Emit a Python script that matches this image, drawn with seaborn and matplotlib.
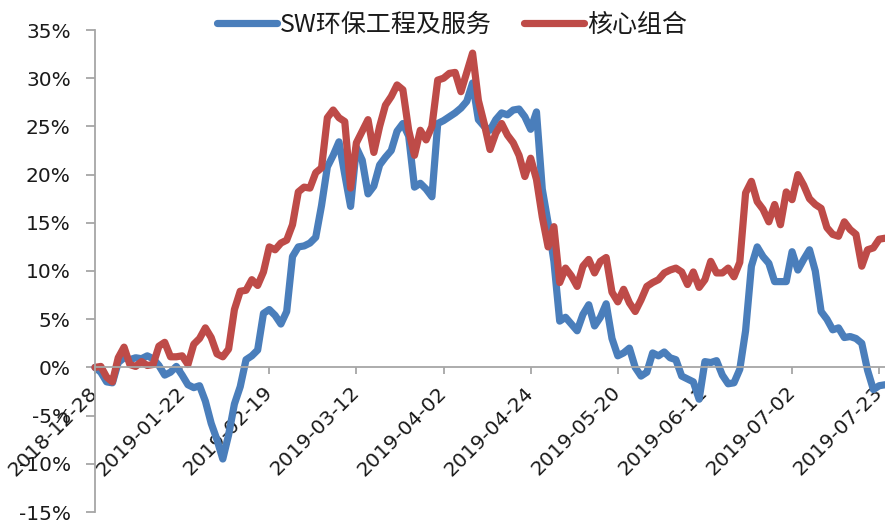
import numpy as np
import pandas as pd
import seaborn as sns
import matplotlib
matplotlib.use("Agg")
import matplotlib.pyplot as plt

# ---------------- data ----------------
series_names = ["SW环保工程及服务", "核心组合"]

sw_env = [
    0.0, -0.5, -1.5, -1.6, 0.5, 1.0, 0.8, 1.0, 0.9, 1.2,
    0.9, 0.2, -0.8, -0.5, 0.1, -0.8, -1.8, -2.1, -1.9, -3.5,
    -5.8, -7.5, -9.5, -7.0, -3.8, -2.0, 0.8, 1.2, 1.8, 5.6,
    6.0, 5.4, 4.5, 5.8, 11.5, 12.5, 12.6, 12.9, 13.5, 16.8,
    20.8, 22.0, 23.4, 20.0, 16.7, 22.8, 21.5, 18.0, 18.8, 21.0,
    21.8, 22.5, 24.5, 25.3, 24.0, 18.7, 19.1, 18.5, 17.7, 25.3,
    25.6, 26.0, 26.4, 26.9, 27.6, 29.5, 25.7, 25.0, 24.6, 25.7,
    26.4, 26.2, 26.7, 26.8, 26.0, 24.7, 26.5, 18.5, 15.0, 11.0,
    4.8, 5.2, 4.5, 3.8, 5.5, 6.5, 4.3, 5.2, 6.6, 3.0,
    1.2, 1.5, 2.0, 0.0, -0.9, -0.5, 1.5, 1.2, 1.6, 1.0,
    0.8, -0.9, -1.2, -1.5, -3.3, 0.6, 0.5, 0.7, -0.8, -1.7,
    -1.6, -0.2, 3.8, 10.5, 12.5, 11.5, 10.8, 8.9, 8.9, 8.9,
    12.0, 10.1, 11.2, 12.2, 10.0, 5.8, 5.0, 3.9, 4.1, 3.1,
    3.2, 3.0, 2.5, -0.3, -2.3, -1.9, -1.8,
]

core_portfolio = [
    0.0, 0.1, -1.0, -1.5, 1.0, 2.1, 0.3, 0.1, 0.6, 0.2,
    0.3, 2.2, 2.6, 1.1, 1.1, 1.2, 0.3, 2.4, 3.0, 4.1,
    3.1, 1.4, 1.1, 1.9, 6.0, 7.9, 8.0, 9.1, 8.5, 9.9,
    12.5, 12.2, 12.9, 13.2, 14.8, 18.2, 18.7, 18.6, 20.2, 20.7,
    25.9, 26.7, 25.9, 25.5, 18.6, 23.3, 24.5, 25.7, 22.3, 25.0,
    27.2, 28.1, 29.3, 28.8, 24.6, 22.0, 24.6, 23.6, 25.0, 29.8,
    30.0, 30.5, 30.6, 28.6, 30.6, 32.6, 27.7, 25.3, 22.6, 24.3,
    25.3, 24.1, 23.3, 22.0, 19.8, 21.7, 19.5, 15.6, 12.5, 14.6,
    8.8, 10.3, 9.5, 8.4, 10.5, 11.2, 9.8, 11.0, 11.4, 7.8,
    6.8, 8.1, 6.7, 5.8, 7.0, 8.4, 8.8, 9.1, 9.8, 10.1,
    10.3, 9.9, 8.6, 9.9, 8.3, 9.1, 11.0, 9.8, 9.8, 10.3,
    9.4, 10.9, 18.1, 19.3, 17.2, 16.4, 15.1, 16.9, 14.8, 18.2,
    17.4, 20.0, 18.9, 17.5, 16.9, 16.5, 14.5, 13.8, 13.6, 15.1,
    14.3, 13.8, 10.5, 12.2, 12.4, 13.3, 13.4,
]

tick_labels = ["2018-12-28", "2019-01-22", "2019-02-19", "2019-03-12",
               "2019-04-02", "2019-04-24", "2019-05-20", "2019-06-11",
               "2019-07-02", "2019-07-23"]
tick_step = 15  # trading days between labelled dates

y_ticks = [-15, -10, -5, 0, 5, 10, 15, 20, 25, 30, 35]

colors = {"SW环保工程及服务": "#4A7EBB", "核心组合": "#BE4B48"}

n = len(sw_env)
day = np.arange(n)
df = pd.DataFrame({
    "day": np.concatenate([day, day]),
    "value": np.concatenate([sw_env, core_portfolio]),
    "series": [series_names[0]] * n + [series_names[1]] * n,
})

# ---------------- plot ----------------
sns.set_theme(style="white")
plt.rcParams["font.family"] = ["DejaVu Sans", "Noto Sans CJK SC"]

W, H = 885, 525
fig = plt.figure(figsize=(W / 100, H / 100), dpi=100)
ax = fig.add_axes([95 / W, 1 - 512 / H, (885 - 95) / W, (512 - 30) / H])

sns.lineplot(data=df, x="day", y="value", hue="series",
             hue_order=series_names, palette=colors, linewidth=5.2,
             ax=ax, legend=True, solid_joinstyle="round",
             solid_capstyle="round")
for ln in ax.lines:
    ln.set_clip_on(False)

ax.set_xlim(0, n - 1)
ax.set_ylim(-15, 35)
ax.set_xlabel("")
ax.set_ylabel("")

# spines
for s in ["top", "right"]:
    ax.spines[s].set_visible(False)
axis_col = "#A6A6A6"
ax.spines["left"].set_color(axis_col)
ax.spines["left"].set_linewidth(1.3)
ax.spines["bottom"].set_position(("data", 0))
ax.spines["bottom"].set_color(axis_col)
ax.spines["bottom"].set_linewidth(1.3)

ax.set_yticks(y_ticks)
ax.set_yticklabels([f"{v}%" for v in y_ticks])
ax.set_xticks([i * tick_step for i in range(len(tick_labels))])
ax.set_xticklabels(tick_labels)

ax.tick_params(axis="y", which="major", direction="out", length=6.5,
               width=1.3, color=axis_col, labelsize=14.5, pad=11,
               labelcolor="#1A1A1A", left=True)
ax.tick_params(axis="x", which="major", direction="out", length=5,
               width=1.3, color=axis_col, labelsize=14.5, pad=11,
               labelcolor="#1A1A1A", bottom=True)

for lab in ax.get_xticklabels():
    lab.set_rotation(45)
    lab.set_ha("right")
    lab.set_va("center")
    lab.set_rotation_mode("anchor")

# legend
handles, labels = ax.get_legend_handles_labels()
ax.get_legend().remove()
for h in handles:
    h.set_linewidth(5.2)
    h.set_solid_capstyle("round")
fig.legend(handles, labels, loc="center",
           bbox_to_anchor=(452 / W, 1 - 25 / H), ncol=2, frameon=False,
           prop={"family": ["Noto Sans CJK SC", "DejaVu Sans"], "size": 18},
           handlelength=2.4, handletextpad=0.1, columnspacing=1.3,
           labelcolor="#1A1A1A")

fig.savefig("out.png", dpi=100)
